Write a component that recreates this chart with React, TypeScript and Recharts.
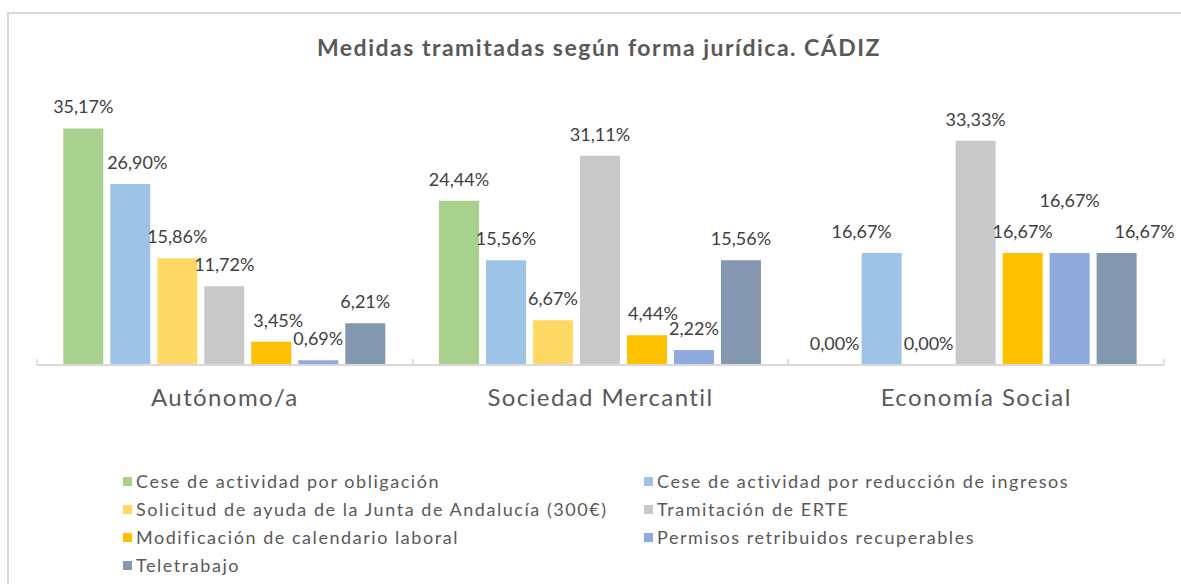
import React from 'react';
import { BarChart, Bar, XAxis, YAxis, LabelList, Legend } from 'recharts';

const categories = ['Autónomo/a', 'Sociedad Mercantil', 'Economía Social'];
const seriesNames = [
  'Cese de actividad por obligación',
  'Cese de actividad por reducción de ingresos',
  'Solicitud de ayuda de la Junta de Andalucía (300€)',
  'Tramitación de ERTE',
  'Modificación de calendario laboral',
  'Permisos retribuidos recuperables',
  'Teletrabajo',
];
const ceseObligacion = [35.17, 24.44, 0.0];
const ceseReduccion = [26.9, 15.56, 16.67];
const solicitudAyuda = [15.86, 6.67, 0.0];
const tramitacionERTE = [11.72, 31.11, 33.33];
const modificacionCalendario = [3.45, 4.44, 16.67];
const permisosRetribuidos = [0.69, 2.22, 16.67];
const teletrabajo = [6.21, 15.56, 16.67];
const yTicks = [0, 10, 20, 30, 40];

const seriesValues = [
  ceseObligacion,
  ceseReduccion,
  solicitudAyuda,
  tramitacionERTE,
  modificacionCalendario,
  permisosRetribuidos,
  teletrabajo,
];
const colors = ['#A9D18E', '#9DC3E6', '#FFD966', '#C9C9C9', '#FFC000', '#8FAADC', '#8497B0'];

const data = categories.map((name, i) => {
  const row: Record<string, any> = { name };
  seriesValues.forEach((vals, s) => {
    row['s' + s] = vals[i];
  });
  return row;
});

const FONT = 'Lato, "DejaVu Sans", sans-serif';
const TEXT = '#595959';

// manual nudges of a few data labels (series index -> category index -> [dx, dy])
const labelNudge: Record<number, Record<number, [number, number]>> = {
  1: { 0: [7, 0], 2: [-20, 0] },
  4: { 0: [7, 0], 1: [6, 0] },
  5: { 2: [0, -31] },
  6: { 2: [28, 0] },
};

const fmt = (v: number) => v.toFixed(2).replace('.', ',') + '%';

const makeLabel = (s: number) => (props: any) => {
  const { x, y, width, value, index } = props;
  const n = (labelNudge[s] && labelNudge[s][index]) || [0, 0];
  return (
    <text
      x={Number(x) + Number(width) / 2 + n[0]}
      y={Number(y) - 15 + n[1]}
      textAnchor="middle"
      fontSize={18}
      fontFamily={FONT}
      fill="#404040"
    >
      {fmt(Number(value))}
    </text>
  );
};

const CategoryTick = (props: any) => {
  const { x, y, payload } = props;
  const half = payload && payload.offset ? payload.offset : 0;
  const axisY = y - 25;
  return (
    <g>
      {half > 0 && (
        <>
          <line x1={x - half} x2={x - half} y1={axisY} y2={axisY - 6} stroke="#D9D9D9" strokeWidth={1.5} />
          <line x1={x + half} x2={x + half} y1={axisY} y2={axisY - 6} stroke="#D9D9D9" strokeWidth={1.5} />
        </>
      )}
      <text
        x={x}
        y={y + 16}
        textAnchor="middle"
        fontSize={24}
        letterSpacing={1.4}
        fontFamily={FONT}
        fill={TEXT}
      >
        {payload.value}
      </text>
    </g>
  );
};

const renderLegend = () => (
  <div
    style={{
      display: 'grid',
      gridTemplateColumns: '521px 521px',
      rowGap: 0,
      fontFamily: FONT,
      fontSize: 18,
      letterSpacing: 1.55,
      color: TEXT,
    }}
  >
    {seriesNames.map((name, i) => (
      <div key={name} style={{ height: 28, display: 'flex', alignItems: 'center', whiteSpace: 'nowrap' }}>
        <span style={{ width: 9, height: 9, background: colors[i], display: 'inline-block', marginRight: 4 }} />
        <span>{name}</span>
      </div>
    ))}
  </div>
);

export default function App() {
  return (
    <div style={{ position: 'absolute', left: 0, top: 0, width: 1181, height: 584, background: '#fff', overflow: 'hidden' }}>
      <div
        style={{
          position: 'absolute',
          left: 7,
          top: 12,
          width: 1200,
          height: 600,
          borderLeft: '2px solid #D9D9D9',
          borderTop: '2px solid #D9D9D9',
        }}
      />
      <div
        style={{
          position: 'absolute',
          left: 99,
          width: 1000,
          top: 33,
          textAlign: 'center',
          fontFamily: FONT,
          fontWeight: 700,
          fontSize: 23,
          letterSpacing: 1.5,
          color: TEXT,
          whiteSpace: 'nowrap',
        }}
      >
        Medidas tramitadas según forma jurídica. CÁDIZ
      </div>
      <div style={{ position: 'absolute', left: 0, top: 0 }}>
        <BarChart
          width={1181}
          height={584}
          data={data}
          margin={{ top: 96, right: 17, left: 37, bottom: 159 }}
          barCategoryGap="7%"
          barGap={7}
        >
          <XAxis
            dataKey="name"
            height={60}
            axisLine={{ stroke: '#D9D9D9', strokeWidth: 2 }}
            tickLine={false}
            tickSize={0}
            tickMargin={25}
            tick={<CategoryTick />}
            interval={0}
          />
          <YAxis hide domain={[0, 40]} ticks={yTicks} />
          {seriesNames.map((name, s) => (
            <Bar
              key={name}
              dataKey={'s' + s}
              name={name}
              fill={colors[s]}
              minPointSize={0.01}
              isAnimationActive={false}
            >
              <LabelList dataKey={'s' + s} content={makeLabel(s)} />
            </Bar>
          ))}
          <Legend
            verticalAlign="middle"
            align="center"
            layout="horizontal"
            content={renderLegend}
            wrapperStyle={{ position: 'absolute', left: 123, top: 467, width: 1050 }}
          />
        </BarChart>
      </div>
    </div>
  );
}
